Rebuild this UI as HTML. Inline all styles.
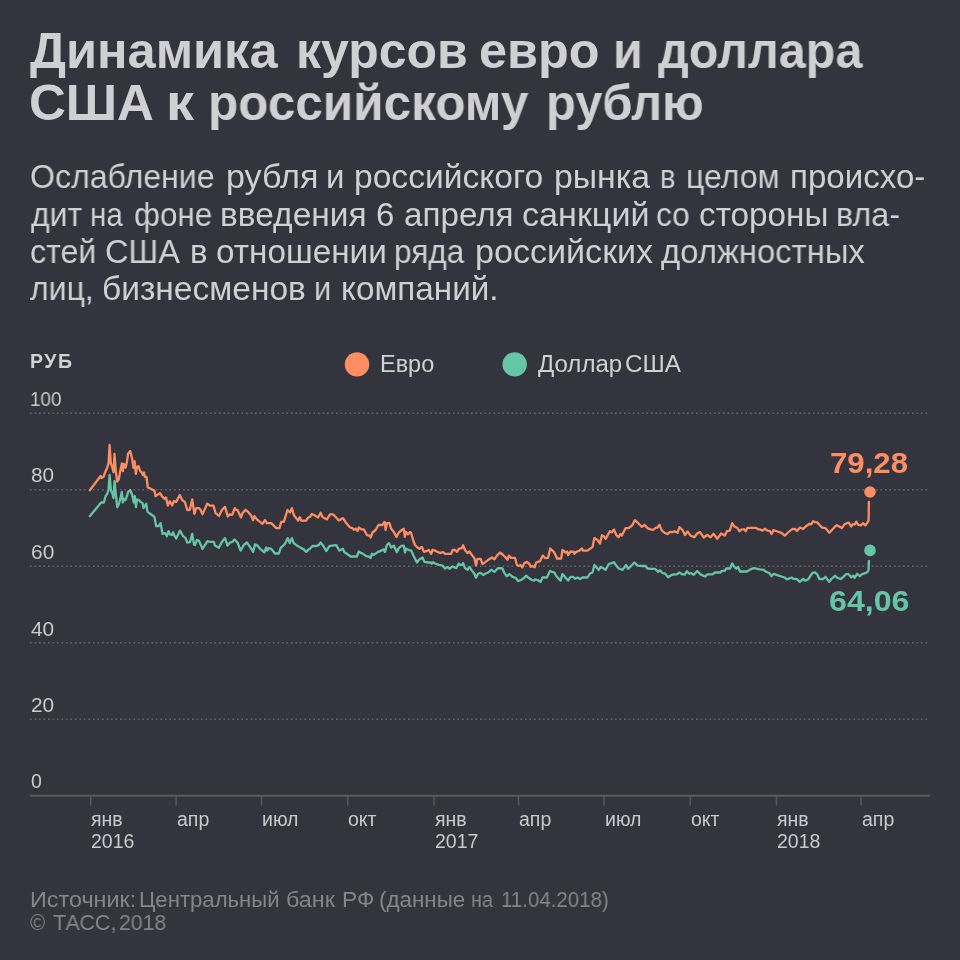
<!DOCTYPE html>
<html lang="ru">
<head>
<meta charset="utf-8">
<style>
html,body{margin:0;padding:0;}
body{width:960px;height:960px;background:#34343e;position:relative;overflow:hidden;font-family:"Liberation Sans",sans-serif;}
.t{position:absolute;white-space:pre;line-height:1;margin:0;transform-origin:0 0;-webkit-font-smoothing:antialiased;will-change:transform;}
.title{font-weight:bold;font-size:50px;color:#cfcfd4;}
.sub{font-size:33px;color:#cfcfd4;}
.lab{font-size:19.5px;color:#c9c9ce;}
.leg{font-size:23px;color:#d2d2d6;}
.foot{font-size:22px;color:#85858b;}
.val{font-weight:bold;font-size:29px;}
svg{position:absolute;left:0;top:0;}
</style>
</head>
<body>
<!--TITLE-->
<div class="t title" style="left:30.30px;top:25.5px;transform:scaleX(1.0105);">Динамика</div>
<div class="t title" style="left:295.75px;top:25.5px;transform:scaleX(0.9996);">курсов</div>
<div class="t title" style="left:478.99px;top:25.5px;transform:scaleX(1.0078);">евро</div>
<div class="t title" style="left:612.84px;top:25.5px;transform:scaleX(0.9700);">и</div>
<div class="t title" style="left:657.50px;top:25.5px;transform:scaleX(0.9698);">доллара</div>
<div class="t title" style="left:29.21px;top:77.5px;transform:scaleX(1.0201);">США</div>
<div class="t title" style="left:165.89px;top:77.5px;transform:scaleX(1.1196);">к</div>
<div class="t title" style="left:208.28px;top:77.5px;transform:scaleX(0.9894);">российскому</div>
<div class="t title" style="left:545.82px;top:77.5px;transform:scaleX(0.9755);">рублю</div>
<!--/TITLE-->

<!--SUB-->
<div class="t sub" style="left:30.03px;top:160.2px;transform:scaleX(0.9725);">Ослабление</div>
<div class="t sub" style="left:226.23px;top:160.2px;transform:scaleX(1.0336);">рубля</div>
<div class="t sub" style="left:326.30px;top:160.2px;transform:scaleX(1.0000);">и</div>
<div class="t sub" style="left:353.97px;top:160.2px;transform:scaleX(1.0173);">российского</div>
<div class="t sub" style="left:553.95px;top:160.2px;transform:scaleX(1.0242);">рынка</div>
<div class="t sub" style="left:659.93px;top:160.2px;transform:scaleX(0.8867);">в</div>
<div class="t sub" style="left:686.36px;top:160.2px;transform:scaleX(0.9702);">целом</div>
<div class="t sub" style="left:789.70px;top:160.2px;transform:scaleX(1.0023);">происхо-</div>
<div class="t sub" style="left:30.70px;top:197.5px;transform:scaleX(0.9679);">дит</div>
<div class="t sub" style="left:89.91px;top:197.5px;transform:scaleX(0.8971);">на</div>
<div class="t sub" style="left:134.05px;top:197.5px;transform:scaleX(0.9532);">фоне</div>
<div class="t sub" style="left:220.27px;top:197.5px;transform:scaleX(1.0150);">введения</div>
<div class="t sub" style="left:375.70px;top:197.5px;transform:scaleX(1.0000);">6</div>
<div class="t sub" style="left:403.99px;top:197.5px;transform:scaleX(1.0058);">апреля</div>
<div class="t sub" style="left:522.27px;top:197.5px;transform:scaleX(1.0343);">санкций</div>
<div class="t sub" style="left:655.74px;top:197.5px;transform:scaleX(0.9613);">со</div>
<div class="t sub" style="left:698.99px;top:197.5px;transform:scaleX(1.0093);">стороны</div>
<div class="t sub" style="left:836.34px;top:197.5px;transform:scaleX(0.9778);">вла-</div>
<div class="t sub" style="left:30.02px;top:235.0px;transform:scaleX(0.9757);">стей</div>
<div class="t sub" style="left:105.01px;top:235.0px;transform:scaleX(0.9857);">США</div>
<div class="t sub" style="left:189.70px;top:235.0px;transform:scaleX(1.0000);">в</div>
<div class="t sub" style="left:215.69px;top:235.0px;transform:scaleX(1.0090);">отношении</div>
<div class="t sub" style="left:394.09px;top:235.0px;transform:scaleX(0.9569);">ряда</div>
<div class="t sub" style="left:474.63px;top:235.0px;transform:scaleX(1.0331);">российских</div>
<div class="t sub" style="left:660.70px;top:235.0px;transform:scaleX(0.9949);">должностных</div>
<div class="t sub" style="left:30.00px;top:272.4px;transform:scaleX(0.9703);">лиц,</div>
<div class="t sub" style="left:101.68px;top:272.4px;transform:scaleX(1.0158);">бизнесменов</div>
<div class="t sub" style="left:314.13px;top:272.4px;transform:scaleX(0.9333);">и</div>
<div class="t sub" style="left:341.28px;top:272.4px;transform:scaleX(1.0081);">компаний.</div>
<!--/SUB-->

<div class="t" id="rub" style="left:30px;top:351.8px;font-weight:bold;font-size:19.5px;letter-spacing:1.5px;color:#d2d2d6;">РУБ</div>

<!--LEG-->
<div class="t leg" style="left:379.58px;top:352.5px;transform:scaleX(1.0204);">Евро</div>
<div class="t leg" style="left:537.50px;top:352.5px;transform:scaleX(1.0445);">Доллар</div>
<div class="t leg" style="left:625.24px;top:352.5px;transform:scaleX(1.0571);">США</div>
<!--/LEG-->

<div class="t lab" style="left:29.63px;top:389.7px;transform:scaleX(0.9672);">100</div>
<div class="t lab" style="left:30.60px;top:465.9px;transform:scaleX(1.0666);">80</div>
<div class="t lab" style="left:30.60px;top:542.5px;transform:scaleX(1.0758);">60</div>
<div class="t lab" style="left:30.60px;top:619.5px;transform:scaleX(1.0712);">40</div>
<div class="t lab" style="left:30.60px;top:696.0px;transform:scaleX(1.0712);">20</div>
<div class="t lab" style="left:30.90px;top:771.8px;transform:scaleX(0.9727);">0</div>


<div class="t lab" style="left:91.3px;top:810px;">янв</div>
<div class="t lab" style="left:176.7px;top:810px;">апр</div>
<div class="t lab" style="left:262.1px;top:810px;">июл</div>
<div class="t lab" style="left:348.4px;top:810px;">окт</div>
<div class="t lab" style="left:434.7px;top:810px;">янв</div>
<div class="t lab" style="left:519.1px;top:810px;">апр</div>
<div class="t lab" style="left:604.5px;top:810px;">июл</div>
<div class="t lab" style="left:690.8px;top:810px;">окт</div>
<div class="t lab" style="left:777.1px;top:810px;">янв</div>
<div class="t lab" style="left:861.6px;top:810px;">апр</div>
<div class="t lab" style="left:91.1px;top:832px;">2016</div>
<div class="t lab" style="left:434.5px;top:832px;">2017</div>
<div class="t lab" style="left:776.9px;top:832px;">2018</div>

<!--FOOT-->
<div class="t foot" style="left:29.94px;top:889.1px;transform:scaleX(1.0621);">Источник:</div>
<div class="t foot" style="left:138.99px;top:889.1px;transform:scaleX(1.0061);">Центральный</div>
<div class="t foot" style="left:285.64px;top:889.1px;transform:scaleX(1.0620);">банк</div>
<div class="t foot" style="left:341.66px;top:889.1px;transform:scaleX(1.0399);">РФ</div>
<div class="t foot" style="left:378.98px;top:889.1px;transform:scaleX(1.0178);">(данные</div>
<div class="t foot" style="left:470.81px;top:889.1px;transform:scaleX(0.8944);">на</div>
<div class="t foot" style="left:500.77px;top:889.1px;transform:scaleX(0.9306);">11.04.2018)</div>
<div class="t foot" style="left:30.00px;top:912.4px;transform:scaleX(0.9375);">©</div>
<div class="t foot" style="left:52.70px;top:912.4px;transform:scaleX(0.9784);">ТАСС,</div>
<div class="t foot" style="left:119.04px;top:912.4px;transform:scaleX(0.9642);">2018</div>
<!--/FOOT-->

<svg width="960" height="960" viewBox="0 0 960 960">
  <g stroke="#64646c" stroke-width="1.6" stroke-dasharray="1.6 2.9">
    <line x1="30" y1="413.2" x2="928" y2="413.2"/>
    <line x1="30" y1="489.8" x2="928" y2="489.8"/>
    <line x1="30" y1="566.3" x2="928" y2="566.3"/>
    <line x1="30" y1="642.8" x2="928" y2="642.8"/>
    <line x1="30" y1="719.3" x2="928" y2="719.3"/>
  </g>
  <line x1="30" y1="795.8" x2="930" y2="795.8" stroke="#58585f" stroke-width="2"/>
  <g stroke="#58585f" stroke-width="1.5">
    <line x1="90.7" y1="796" x2="90.7" y2="805.5"/>
    <line x1="176.1" y1="796" x2="176.1" y2="805.5"/>
    <line x1="261.5" y1="796" x2="261.5" y2="805.5"/>
    <line x1="347.8" y1="796" x2="347.8" y2="805.5"/>
    <line x1="434.1" y1="796" x2="434.1" y2="805.5"/>
    <line x1="518.5" y1="796" x2="518.5" y2="805.5"/>
    <line x1="603.9" y1="796" x2="603.9" y2="805.5"/>
    <line x1="690.2" y1="796" x2="690.2" y2="805.5"/>
    <line x1="776.5" y1="796" x2="776.5" y2="805.5"/>
    <line x1="861.0" y1="796" x2="861.0" y2="805.5"/>
  </g>
  <circle cx="357" cy="364.4" r="12.2" fill="#fd8d62"/>
  <circle cx="514.7" cy="364.4" r="12.2" fill="#66c4a7"/>
  <!--LINES-->
  <g fill="none" stroke-linejoin="round" stroke-linecap="round">
    <path d="M89.8 490.2 L100.6 476.0 L101.6 478.1 L103.5 476.9 L105.2 472.2 L107.2 467.8 L108.5 463.1 L109.6 445.0 L110.8 463.1 L112.5 467.8 L113.5 472.2 L114.5 454.0 L115.8 471.2 L117.2 481.5 L118.8 479.4 L120.2 471.2 L121.9 463.5 L122.9 471.2 L123.8 463.8 L125.6 467.8 L126.9 461.9 L128.1 453.8 L130.2 451.0 L131.9 457.5 L133.5 467.8 L134.6 461.2 L135.9 473.8 L136.9 466.9 L138.5 466.2 L140.2 471.2 L141.9 472.5 L142.9 475.0 L144.0 472.5 L144.8 476.9 L146.5 476.9 L147.8 487.5 L149.4 488.1 L151.9 489.4 L154.4 490.6 L155.6 496.2 L157.2 495.0 L159.4 493.8 L160.0 493.1 L162.5 496.9 L164.4 498.8 L166.0 497.5 L167.8 505.6 L169.8 501.2 L172.2 505.4 L174.0 501.0 L176.2 501.9 L179.8 495.0 L182.2 500.0 L185.0 502.2 L187.2 510.0 L189.8 509.8 L192.2 499.4 L194.4 513.8 L196.2 508.1 L199.0 508.1 L200.6 510.0 L202.5 514.4 L207.2 503.8 L210.0 505.6 L213.5 505.6 L215.6 513.1 L219.0 516.0 L221.9 510.0 L225.0 506.9 L227.8 516.5 L230.0 514.4 L232.2 514.8 L234.8 508.1 L235.0 509.4 L237.5 510.0 L241.0 517.5 L242.5 513.1 L245.6 509.8 L248.1 511.9 L251.2 515.6 L253.1 520.2 L254.4 516.2 L256.9 519.4 L260.0 521.9 L262.5 523.8 L265.0 520.0 L266.9 523.1 L271.2 523.1 L273.8 525.6 L276.2 528.1 L279.4 528.1 L281.2 521.9 L283.8 521.9 L287.5 510.0 L290.0 512.5 L291.9 508.1 L293.8 515.0 L296.2 518.1 L298.1 520.6 L299.8 517.2 L301.2 520.6 L306.2 520.6 L308.1 517.5 L310.0 516.9 L311.9 514.0 L315.0 515.6 L318.1 517.5 L320.6 512.8 L322.5 516.9 L326.9 519.4 L330.0 514.4 L333.1 514.4 L336.2 517.5 L338.8 520.6 L343.1 518.1 L346.2 523.1 L350.0 527.5 L352.5 528.1 L353.8 529.8 L355.6 528.8 L357.5 531.0 L358.8 527.5 L361.2 529.4 L363.8 529.4 L366.9 535.0 L369.4 535.6 L370.6 537.5 L372.5 532.5 L375.6 530.0 L378.5 525.0 L382.5 525.0 L384.4 521.9 L385.0 522.5 L385.6 530.0 L386.9 523.1 L389.4 523.1 L391.2 528.8 L393.8 531.9 L396.5 536.9 L398.8 532.5 L401.9 530.0 L403.8 528.8 L404.8 536.9 L406.0 531.9 L408.1 534.4 L410.0 531.9 L411.2 533.1 L413.1 540.0 L415.0 545.0 L417.5 547.5 L419.4 548.8 L421.9 546.9 L424.0 551.9 L426.2 551.2 L428.8 550.0 L431.2 553.8 L432.5 549.8 L435.0 550.6 L437.5 551.9 L440.6 553.1 L442.8 551.9 L445.0 553.8 L451.2 553.8 L452.5 550.0 L455.0 550.0 L456.9 551.9 L458.8 548.8 L460.0 548.5 L461.9 548.1 L463.1 545.2 L465.0 550.0 L467.5 553.1 L469.4 551.5 L471.9 555.0 L474.4 558.1 L476.0 565.6 L477.5 558.8 L480.6 558.8 L482.5 564.0 L485.6 561.9 L488.8 559.4 L491.9 557.5 L494.4 559.4 L496.9 555.6 L500.0 552.5 L503.1 555.0 L505.6 557.5 L507.5 559.8 L508.8 555.6 L511.2 557.8 L515.0 557.8 L516.9 565.0 L518.8 566.0 L520.6 565.0 L522.2 567.5 L524.4 563.1 L526.9 561.9 L529.4 564.0 L530.6 566.9 L532.8 566.0 L534.8 567.2 L535.0 566.2 L536.2 562.5 L540.0 561.2 L542.8 555.6 L545.0 558.1 L548.1 557.8 L550.2 548.5 L553.8 551.9 L555.6 555.0 L556.9 558.5 L561.2 558.5 L562.5 550.0 L565.6 552.5 L567.2 551.5 L568.1 555.0 L570.6 551.5 L573.8 551.9 L574.4 553.8 L576.2 551.9 L579.4 550.6 L581.9 548.5 L583.1 550.6 L587.5 550.6 L590.0 548.8 L592.5 546.9 L594.4 538.1 L597.5 540.0 L600.0 543.5 L601.9 535.2 L603.8 536.2 L605.6 538.8 L610.0 531.2 L611.9 532.2 L614.0 529.4 L616.2 535.0 L618.5 537.2 L620.6 534.0 L621.9 535.6 L625.6 528.1 L628.8 528.1 L632.5 525.0 L634.8 520.2 L636.9 521.9 L640.0 525.0 L641.9 526.9 L644.4 524.8 L647.5 528.1 L650.6 529.4 L653.1 530.0 L655.6 527.8 L657.5 527.5 L659.4 524.8 L661.9 530.6 L665.0 533.1 L667.5 534.0 L670.0 531.9 L672.5 532.2 L674.4 531.2 L677.5 532.8 L679.4 527.2 L682.5 530.0 L685.0 535.0 L687.5 531.5 L690.6 535.6 L694.4 537.2 L696.9 533.8 L699.8 531.9 L703.8 537.5 L707.2 535.0 L710.6 537.2 L713.5 533.8 L717.2 538.8 L721.2 533.5 L724.8 535.6 L726.9 531.2 L729.8 530.6 L732.2 523.1 L734.4 526.5 L737.5 528.1 L739.4 531.2 L741.9 529.4 L744.4 529.4 L745.6 531.2 L747.5 527.8 L756.2 527.8 L758.1 529.4 L760.0 529.4 L762.5 530.6 L765.2 528.8 L767.5 530.6 L769.8 531.0 L771.5 534.0 L773.5 530.2 L777.5 531.5 L781.9 533.1 L784.8 535.6 L788.1 532.5 L792.2 529.0 L795.0 529.0 L796.9 531.0 L800.0 527.5 L803.1 529.0 L806.0 526.2 L809.4 523.8 L811.2 524.4 L813.1 521.2 L815.0 522.1 L817.2 522.4 L819.4 524.8 L822.1 527.6 L825.4 528.1 L829.4 532.7 L832.5 529.2 L835.2 526.5 L836.9 525.1 L839.1 526.5 L841.8 528.1 L844.5 524.3 L846.7 523.2 L848.9 522.7 L849.8 524.3 L851.1 526.5 L852.7 524.3 L854.9 524.3 L856.3 521.6 L858.2 524.8 L860.9 525.4 L862.9 523.2 L865.3 525.4 L867.3 522.7 L868.6 520.5 L868.9 502.0" stroke="#34343e" stroke-width="4.2"/>
    <path d="M89.8 516.2 L101.2 502.5 L103.8 502.5 L105.6 496.2 L107.2 493.8 L108.5 490.0 L109.6 475.0 L110.9 490.0 L112.5 493.8 L113.5 498.1 L114.6 481.2 L115.9 495.0 L117.2 507.2 L119.0 503.8 L120.6 497.5 L121.8 491.9 L122.8 502.5 L124.0 498.8 L125.6 500.0 L126.9 496.2 L128.1 491.9 L130.2 490.0 L132.2 495.0 L133.8 502.5 L134.8 496.2 L136.0 507.2 L136.9 499.4 L138.8 500.0 L140.6 501.9 L142.5 503.1 L143.5 508.1 L145.0 505.6 L146.2 503.8 L147.5 511.9 L149.4 513.1 L151.9 515.0 L154.4 516.9 L156.2 526.2 L158.8 526.2 L160.6 523.1 L162.5 533.8 L165.0 533.1 L166.9 536.2 L168.5 531.2 L170.0 534.4 L171.9 535.0 L173.1 532.2 L174.4 535.6 L176.2 538.5 L180.0 530.6 L183.1 536.2 L185.6 538.1 L187.2 542.5 L190.0 542.2 L192.2 533.8 L194.0 544.4 L195.0 545.0 L196.9 540.0 L198.8 540.6 L200.6 544.4 L202.5 549.0 L205.0 545.0 L207.5 541.2 L210.0 541.9 L213.8 541.9 L215.0 545.6 L218.8 547.8 L221.9 541.9 L225.0 538.1 L227.5 545.6 L230.0 542.5 L232.5 541.9 L234.4 539.4 L235.0 540.0 L237.5 542.5 L240.6 550.6 L243.8 545.0 L246.9 542.5 L250.0 546.9 L253.1 551.9 L255.0 544.4 L257.5 545.6 L260.6 549.4 L264.4 552.2 L266.2 547.5 L267.2 550.6 L268.8 548.1 L271.2 548.8 L275.0 553.5 L278.8 553.5 L280.6 548.1 L282.5 546.2 L285.0 543.8 L287.8 538.1 L289.8 543.1 L291.9 538.1 L293.8 543.1 L296.9 545.6 L299.4 546.9 L301.2 548.1 L303.8 549.4 L306.2 551.9 L308.8 549.4 L310.0 548.8 L312.5 546.0 L315.6 546.2 L318.8 545.2 L320.6 542.5 L323.1 545.6 L326.2 551.0 L329.4 546.2 L331.9 545.6 L336.2 545.2 L339.4 550.6 L342.8 548.8 L344.4 552.2 L346.9 553.8 L350.6 556.5 L356.9 556.5 L358.8 551.5 L361.2 553.1 L363.1 553.8 L366.2 556.2 L368.8 556.5 L370.6 558.1 L371.9 553.8 L373.8 554.8 L378.1 551.9 L381.2 550.6 L383.8 549.4 L385.0 551.9 L386.9 545.0 L389.0 543.1 L391.2 547.5 L393.8 545.6 L396.9 552.2 L398.8 548.1 L401.2 546.0 L403.8 545.6 L405.0 552.5 L406.2 548.8 L408.8 550.0 L411.2 550.6 L413.8 556.2 L416.9 562.5 L418.8 560.0 L422.5 557.5 L424.4 561.9 L428.8 562.5 L430.6 562.5 L431.9 563.5 L433.1 562.2 L435.0 563.5 L438.8 564.8 L442.5 565.6 L445.0 568.5 L447.5 566.9 L449.4 568.8 L452.5 566.5 L456.2 568.1 L458.8 563.5 L460.0 565.0 L462.5 564.8 L463.1 563.1 L465.0 568.1 L467.5 569.8 L469.4 566.9 L471.9 570.6 L474.4 573.8 L476.0 577.8 L478.1 573.8 L480.6 572.8 L483.1 575.0 L485.6 573.5 L488.1 572.5 L491.2 569.8 L494.4 571.9 L497.5 568.5 L500.0 568.1 L502.5 568.5 L504.4 573.1 L506.9 576.2 L509.4 574.0 L512.5 576.9 L515.6 577.8 L518.1 581.0 L521.2 580.0 L522.5 578.8 L524.0 578.1 L526.2 575.6 L528.8 578.1 L531.9 580.0 L534.4 580.6 L535.0 579.4 L537.5 580.0 L540.6 581.9 L542.5 577.5 L546.9 577.5 L550.0 571.0 L553.1 572.2 L554.4 572.5 L556.2 576.0 L560.6 580.6 L562.5 574.0 L565.6 577.8 L568.1 580.6 L570.6 576.9 L573.1 576.9 L575.0 578.8 L577.5 577.5 L580.0 579.0 L582.5 577.5 L587.5 577.5 L590.0 573.5 L592.5 572.5 L594.4 565.0 L596.2 566.9 L598.8 570.0 L600.6 566.9 L603.1 568.1 L605.6 569.8 L608.8 564.0 L610.0 563.5 L611.9 563.1 L614.0 562.2 L616.2 565.6 L618.8 568.5 L622.5 569.8 L626.2 565.0 L628.1 568.8 L630.6 566.5 L634.4 562.5 L637.5 565.6 L642.5 566.0 L645.6 566.0 L647.5 568.5 L651.2 568.8 L655.0 568.8 L658.1 571.9 L660.0 570.2 L662.5 573.1 L665.0 573.5 L668.1 577.2 L671.2 575.2 L673.8 574.4 L676.9 574.4 L679.4 572.5 L682.5 574.4 L685.0 574.4 L686.9 571.2 L689.4 573.8 L691.2 573.1 L693.8 574.8 L697.2 571.0 L700.6 574.4 L705.0 576.5 L707.5 574.4 L712.5 574.4 L715.0 572.5 L720.0 572.5 L721.9 571.0 L725.0 570.6 L726.2 568.5 L730.0 568.5 L732.2 563.5 L734.4 566.9 L736.2 568.8 L738.1 566.9 L740.0 571.5 L746.9 571.5 L749.4 570.0 L752.5 568.5 L754.4 568.1 L757.5 569.0 L760.0 569.4 L763.8 569.8 L765.6 571.5 L769.4 573.1 L771.5 576.2 L773.8 573.8 L778.8 575.6 L784.4 577.5 L786.9 579.4 L791.9 577.5 L793.1 578.8 L796.9 579.0 L799.8 581.9 L803.1 578.8 L805.0 580.6 L808.1 579.4 L810.0 576.5 L812.5 572.8 L815.0 572.4 L817.2 574.3 L819.4 579.0 L823.2 579.0 L825.4 576.8 L829.2 581.9 L831.4 579.0 L835.2 575.7 L836.9 577.6 L840.7 579.0 L843.4 576.8 L846.2 574.1 L848.4 574.1 L851.1 577.3 L853.3 575.7 L854.6 577.9 L857.1 573.8 L859.8 576.2 L862.0 574.1 L865.3 573.2 L867.5 571.9 L868.6 569.7 L868.9 560.8" stroke="#34343e" stroke-width="4.2"/>
    <path d="M89.8 490.2 L100.6 476.0 L101.6 478.1 L103.5 476.9 L105.2 472.2 L107.2 467.8 L108.5 463.1 L109.6 445.0 L110.8 463.1 L112.5 467.8 L113.5 472.2 L114.5 454.0 L115.8 471.2 L117.2 481.5 L118.8 479.4 L120.2 471.2 L121.9 463.5 L122.9 471.2 L123.8 463.8 L125.6 467.8 L126.9 461.9 L128.1 453.8 L130.2 451.0 L131.9 457.5 L133.5 467.8 L134.6 461.2 L135.9 473.8 L136.9 466.9 L138.5 466.2 L140.2 471.2 L141.9 472.5 L142.9 475.0 L144.0 472.5 L144.8 476.9 L146.5 476.9 L147.8 487.5 L149.4 488.1 L151.9 489.4 L154.4 490.6 L155.6 496.2 L157.2 495.0 L159.4 493.8 L160.0 493.1 L162.5 496.9 L164.4 498.8 L166.0 497.5 L167.8 505.6 L169.8 501.2 L172.2 505.4 L174.0 501.0 L176.2 501.9 L179.8 495.0 L182.2 500.0 L185.0 502.2 L187.2 510.0 L189.8 509.8 L192.2 499.4 L194.4 513.8 L196.2 508.1 L199.0 508.1 L200.6 510.0 L202.5 514.4 L207.2 503.8 L210.0 505.6 L213.5 505.6 L215.6 513.1 L219.0 516.0 L221.9 510.0 L225.0 506.9 L227.8 516.5 L230.0 514.4 L232.2 514.8 L234.8 508.1 L235.0 509.4 L237.5 510.0 L241.0 517.5 L242.5 513.1 L245.6 509.8 L248.1 511.9 L251.2 515.6 L253.1 520.2 L254.4 516.2 L256.9 519.4 L260.0 521.9 L262.5 523.8 L265.0 520.0 L266.9 523.1 L271.2 523.1 L273.8 525.6 L276.2 528.1 L279.4 528.1 L281.2 521.9 L283.8 521.9 L287.5 510.0 L290.0 512.5 L291.9 508.1 L293.8 515.0 L296.2 518.1 L298.1 520.6 L299.8 517.2 L301.2 520.6 L306.2 520.6 L308.1 517.5 L310.0 516.9 L311.9 514.0 L315.0 515.6 L318.1 517.5 L320.6 512.8 L322.5 516.9 L326.9 519.4 L330.0 514.4 L333.1 514.4 L336.2 517.5 L338.8 520.6 L343.1 518.1 L346.2 523.1 L350.0 527.5 L352.5 528.1 L353.8 529.8 L355.6 528.8 L357.5 531.0 L358.8 527.5 L361.2 529.4 L363.8 529.4 L366.9 535.0 L369.4 535.6 L370.6 537.5 L372.5 532.5 L375.6 530.0 L378.5 525.0 L382.5 525.0 L384.4 521.9 L385.0 522.5 L385.6 530.0 L386.9 523.1 L389.4 523.1 L391.2 528.8 L393.8 531.9 L396.5 536.9 L398.8 532.5 L401.9 530.0 L403.8 528.8 L404.8 536.9 L406.0 531.9 L408.1 534.4 L410.0 531.9 L411.2 533.1 L413.1 540.0 L415.0 545.0 L417.5 547.5 L419.4 548.8 L421.9 546.9 L424.0 551.9 L426.2 551.2 L428.8 550.0 L431.2 553.8 L432.5 549.8 L435.0 550.6 L437.5 551.9 L440.6 553.1 L442.8 551.9 L445.0 553.8 L451.2 553.8 L452.5 550.0 L455.0 550.0 L456.9 551.9 L458.8 548.8 L460.0 548.5 L461.9 548.1 L463.1 545.2 L465.0 550.0 L467.5 553.1 L469.4 551.5 L471.9 555.0 L474.4 558.1 L476.0 565.6 L477.5 558.8 L480.6 558.8 L482.5 564.0 L485.6 561.9 L488.8 559.4 L491.9 557.5 L494.4 559.4 L496.9 555.6 L500.0 552.5 L503.1 555.0 L505.6 557.5 L507.5 559.8 L508.8 555.6 L511.2 557.8 L515.0 557.8 L516.9 565.0 L518.8 566.0 L520.6 565.0 L522.2 567.5 L524.4 563.1 L526.9 561.9 L529.4 564.0 L530.6 566.9 L532.8 566.0 L534.8 567.2 L535.0 566.2 L536.2 562.5 L540.0 561.2 L542.8 555.6 L545.0 558.1 L548.1 557.8 L550.2 548.5 L553.8 551.9 L555.6 555.0 L556.9 558.5 L561.2 558.5 L562.5 550.0 L565.6 552.5 L567.2 551.5 L568.1 555.0 L570.6 551.5 L573.8 551.9 L574.4 553.8 L576.2 551.9 L579.4 550.6 L581.9 548.5 L583.1 550.6 L587.5 550.6 L590.0 548.8 L592.5 546.9 L594.4 538.1 L597.5 540.0 L600.0 543.5 L601.9 535.2 L603.8 536.2 L605.6 538.8 L610.0 531.2 L611.9 532.2 L614.0 529.4 L616.2 535.0 L618.5 537.2 L620.6 534.0 L621.9 535.6 L625.6 528.1 L628.8 528.1 L632.5 525.0 L634.8 520.2 L636.9 521.9 L640.0 525.0 L641.9 526.9 L644.4 524.8 L647.5 528.1 L650.6 529.4 L653.1 530.0 L655.6 527.8 L657.5 527.5 L659.4 524.8 L661.9 530.6 L665.0 533.1 L667.5 534.0 L670.0 531.9 L672.5 532.2 L674.4 531.2 L677.5 532.8 L679.4 527.2 L682.5 530.0 L685.0 535.0 L687.5 531.5 L690.6 535.6 L694.4 537.2 L696.9 533.8 L699.8 531.9 L703.8 537.5 L707.2 535.0 L710.6 537.2 L713.5 533.8 L717.2 538.8 L721.2 533.5 L724.8 535.6 L726.9 531.2 L729.8 530.6 L732.2 523.1 L734.4 526.5 L737.5 528.1 L739.4 531.2 L741.9 529.4 L744.4 529.4 L745.6 531.2 L747.5 527.8 L756.2 527.8 L758.1 529.4 L760.0 529.4 L762.5 530.6 L765.2 528.8 L767.5 530.6 L769.8 531.0 L771.5 534.0 L773.5 530.2 L777.5 531.5 L781.9 533.1 L784.8 535.6 L788.1 532.5 L792.2 529.0 L795.0 529.0 L796.9 531.0 L800.0 527.5 L803.1 529.0 L806.0 526.2 L809.4 523.8 L811.2 524.4 L813.1 521.2 L815.0 522.1 L817.2 522.4 L819.4 524.8 L822.1 527.6 L825.4 528.1 L829.4 532.7 L832.5 529.2 L835.2 526.5 L836.9 525.1 L839.1 526.5 L841.8 528.1 L844.5 524.3 L846.7 523.2 L848.9 522.7 L849.8 524.3 L851.1 526.5 L852.7 524.3 L854.9 524.3 L856.3 521.6 L858.2 524.8 L860.9 525.4 L862.9 523.2 L865.3 525.4 L867.3 522.7 L868.6 520.5 L868.9 502.0" stroke="#fd8d62" stroke-width="2.3"/>
    <path d="M89.8 516.2 L101.2 502.5 L103.8 502.5 L105.6 496.2 L107.2 493.8 L108.5 490.0 L109.6 475.0 L110.9 490.0 L112.5 493.8 L113.5 498.1 L114.6 481.2 L115.9 495.0 L117.2 507.2 L119.0 503.8 L120.6 497.5 L121.8 491.9 L122.8 502.5 L124.0 498.8 L125.6 500.0 L126.9 496.2 L128.1 491.9 L130.2 490.0 L132.2 495.0 L133.8 502.5 L134.8 496.2 L136.0 507.2 L136.9 499.4 L138.8 500.0 L140.6 501.9 L142.5 503.1 L143.5 508.1 L145.0 505.6 L146.2 503.8 L147.5 511.9 L149.4 513.1 L151.9 515.0 L154.4 516.9 L156.2 526.2 L158.8 526.2 L160.6 523.1 L162.5 533.8 L165.0 533.1 L166.9 536.2 L168.5 531.2 L170.0 534.4 L171.9 535.0 L173.1 532.2 L174.4 535.6 L176.2 538.5 L180.0 530.6 L183.1 536.2 L185.6 538.1 L187.2 542.5 L190.0 542.2 L192.2 533.8 L194.0 544.4 L195.0 545.0 L196.9 540.0 L198.8 540.6 L200.6 544.4 L202.5 549.0 L205.0 545.0 L207.5 541.2 L210.0 541.9 L213.8 541.9 L215.0 545.6 L218.8 547.8 L221.9 541.9 L225.0 538.1 L227.5 545.6 L230.0 542.5 L232.5 541.9 L234.4 539.4 L235.0 540.0 L237.5 542.5 L240.6 550.6 L243.8 545.0 L246.9 542.5 L250.0 546.9 L253.1 551.9 L255.0 544.4 L257.5 545.6 L260.6 549.4 L264.4 552.2 L266.2 547.5 L267.2 550.6 L268.8 548.1 L271.2 548.8 L275.0 553.5 L278.8 553.5 L280.6 548.1 L282.5 546.2 L285.0 543.8 L287.8 538.1 L289.8 543.1 L291.9 538.1 L293.8 543.1 L296.9 545.6 L299.4 546.9 L301.2 548.1 L303.8 549.4 L306.2 551.9 L308.8 549.4 L310.0 548.8 L312.5 546.0 L315.6 546.2 L318.8 545.2 L320.6 542.5 L323.1 545.6 L326.2 551.0 L329.4 546.2 L331.9 545.6 L336.2 545.2 L339.4 550.6 L342.8 548.8 L344.4 552.2 L346.9 553.8 L350.6 556.5 L356.9 556.5 L358.8 551.5 L361.2 553.1 L363.1 553.8 L366.2 556.2 L368.8 556.5 L370.6 558.1 L371.9 553.8 L373.8 554.8 L378.1 551.9 L381.2 550.6 L383.8 549.4 L385.0 551.9 L386.9 545.0 L389.0 543.1 L391.2 547.5 L393.8 545.6 L396.9 552.2 L398.8 548.1 L401.2 546.0 L403.8 545.6 L405.0 552.5 L406.2 548.8 L408.8 550.0 L411.2 550.6 L413.8 556.2 L416.9 562.5 L418.8 560.0 L422.5 557.5 L424.4 561.9 L428.8 562.5 L430.6 562.5 L431.9 563.5 L433.1 562.2 L435.0 563.5 L438.8 564.8 L442.5 565.6 L445.0 568.5 L447.5 566.9 L449.4 568.8 L452.5 566.5 L456.2 568.1 L458.8 563.5 L460.0 565.0 L462.5 564.8 L463.1 563.1 L465.0 568.1 L467.5 569.8 L469.4 566.9 L471.9 570.6 L474.4 573.8 L476.0 577.8 L478.1 573.8 L480.6 572.8 L483.1 575.0 L485.6 573.5 L488.1 572.5 L491.2 569.8 L494.4 571.9 L497.5 568.5 L500.0 568.1 L502.5 568.5 L504.4 573.1 L506.9 576.2 L509.4 574.0 L512.5 576.9 L515.6 577.8 L518.1 581.0 L521.2 580.0 L522.5 578.8 L524.0 578.1 L526.2 575.6 L528.8 578.1 L531.9 580.0 L534.4 580.6 L535.0 579.4 L537.5 580.0 L540.6 581.9 L542.5 577.5 L546.9 577.5 L550.0 571.0 L553.1 572.2 L554.4 572.5 L556.2 576.0 L560.6 580.6 L562.5 574.0 L565.6 577.8 L568.1 580.6 L570.6 576.9 L573.1 576.9 L575.0 578.8 L577.5 577.5 L580.0 579.0 L582.5 577.5 L587.5 577.5 L590.0 573.5 L592.5 572.5 L594.4 565.0 L596.2 566.9 L598.8 570.0 L600.6 566.9 L603.1 568.1 L605.6 569.8 L608.8 564.0 L610.0 563.5 L611.9 563.1 L614.0 562.2 L616.2 565.6 L618.8 568.5 L622.5 569.8 L626.2 565.0 L628.1 568.8 L630.6 566.5 L634.4 562.5 L637.5 565.6 L642.5 566.0 L645.6 566.0 L647.5 568.5 L651.2 568.8 L655.0 568.8 L658.1 571.9 L660.0 570.2 L662.5 573.1 L665.0 573.5 L668.1 577.2 L671.2 575.2 L673.8 574.4 L676.9 574.4 L679.4 572.5 L682.5 574.4 L685.0 574.4 L686.9 571.2 L689.4 573.8 L691.2 573.1 L693.8 574.8 L697.2 571.0 L700.6 574.4 L705.0 576.5 L707.5 574.4 L712.5 574.4 L715.0 572.5 L720.0 572.5 L721.9 571.0 L725.0 570.6 L726.2 568.5 L730.0 568.5 L732.2 563.5 L734.4 566.9 L736.2 568.8 L738.1 566.9 L740.0 571.5 L746.9 571.5 L749.4 570.0 L752.5 568.5 L754.4 568.1 L757.5 569.0 L760.0 569.4 L763.8 569.8 L765.6 571.5 L769.4 573.1 L771.5 576.2 L773.8 573.8 L778.8 575.6 L784.4 577.5 L786.9 579.4 L791.9 577.5 L793.1 578.8 L796.9 579.0 L799.8 581.9 L803.1 578.8 L805.0 580.6 L808.1 579.4 L810.0 576.5 L812.5 572.8 L815.0 572.4 L817.2 574.3 L819.4 579.0 L823.2 579.0 L825.4 576.8 L829.2 581.9 L831.4 579.0 L835.2 575.7 L836.9 577.6 L840.7 579.0 L843.4 576.8 L846.2 574.1 L848.4 574.1 L851.1 577.3 L853.3 575.7 L854.6 577.9 L857.1 573.8 L859.8 576.2 L862.0 574.1 L865.3 573.2 L867.5 571.9 L868.6 569.7 L868.9 560.8" stroke="#66c4a7" stroke-width="2.3"/>
  </g>
  <circle cx="870" cy="492" r="5.8" fill="#fd8d62"/>
  <circle cx="870" cy="550.4" r="5.8" fill="#66c4a7"/>
  <!--/LINES-->

</svg>
<div class="t val" style="color:#fd8d62;left:830.17px;top:448.5px;transform:scaleX(1.0757);">79,28</div>
<div class="t val" style="color:#66c4a7;left:829.29px;top:587.3px;transform:scaleX(1.1086);">64,06</div>
</body>
</html>
